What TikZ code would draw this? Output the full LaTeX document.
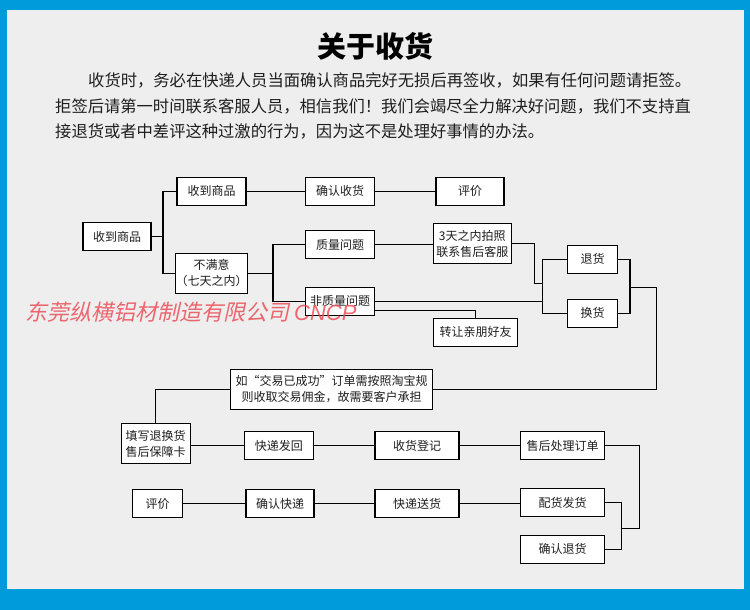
\documentclass[tikz,border=0pt]{standalone}
\usepackage{fontspec}
\setmainfont{Noto Sans CJK SC}
\newfontfamily\wmfont{Noto Sans CJK SC}[FakeSlant=0.22]
\newfontfamily\wmlatin{Liberation Sans}
\usetikzlibrary{calc}
\definecolor{bgblue}{RGB}{0,155,219}
\definecolor{bggray}{RGB}{238,238,238}
\definecolor{wmred}{RGB}{236,78,88}
\definecolor{txt}{RGB}{30,30,30}
\tikzset{
  box/.style={draw=black, line width=1.1pt, fill=white, inner sep=0pt,
    minimum height=28pt, font=\fontsize{12}{16}\selectfont, align=center, text=txt},
  conn/.style={line width=1.1pt, draw=black},
  para/.style={anchor=west, inner sep=0pt, text=txt, font=\fontsize{16.3}{20}\selectfont},
}
\begin{document}
\begin{tikzpicture}[x=1pt,y=-1pt]
\useasboundingbox (0,0) rectangle (750,610);
\fill[bgblue] (0,0) rectangle (750,610);
\fill[bggray] (7,10) rectangle (744,589);

% title and paragraph
\node[inner sep=0pt, text=black, font=\fontsize{29}{32}\selectfont\bfseries] (title) at (375,46) {关于收货};
\node[para] (p1) at (88,80) {收货时，务必在快递人员当面确认商品完好无损后再签收，如果有任何问题请拒签。};
\node[para] (p2) at (55,106) {拒签后请第一时间联系客服人员，相信我们！我们会竭尽全力解决好问题，我们不支持直};
\node[para] (p3) at (55,131) {接退货或者中差评这种过激的行为，因为这不是处理好事情的办法。};

% nodes
\node[box, minimum width=68pt] (n1) at (117,236.5) {收到商品};
\node[box, minimum width=69pt] (n2) at (211.5,191.3) {收到商品};
\node[box, minimum width=69pt] (n3) at (340,191.3) {确认收货};
\node[box, minimum width=68pt] (n4) at (470,191.3) {评价};
\node[box, minimum width=69pt, minimum height=40pt] (n5) at (211.5,273.3) {不满意\\（七天之内）};
\node[box, minimum width=69pt] (n6) at (340,244.5) {质量问题};
\node[box, minimum width=69pt] (n7) at (340,301.3) {非质量问题};
\node[box, minimum width=78pt, minimum height=40pt] (n8) at (472.3,243.5) {3天之内拍照\\联系售后客服};
\node[box, minimum width=84pt] (n9) at (475.5,332.2) {转让亲朋好友};
\node[box, minimum width=50pt] (n10) at (592.5,259.3) {退货};
\node[box, minimum width=50pt] (n11) at (592.5,313.3) {换货};
\node[box, minimum width=202pt, minimum height=40pt] (n12) at (331.7,389.3) {如“交易已成功”订单需按照淘宝规\\则收取交易佣金，故需要客户承担};
\node[box, minimum width=69pt, minimum height=40pt] (n13) at (155.7,443.5) {填写退换货\\售后保障卡};
\node[box, minimum width=69pt] (n14) at (278.8,445.5) {快递发回};
\node[box, minimum width=84pt] (n15) at (417,445.5) {收货登记};
\node[box, minimum width=84pt] (n16) at (562.5,445.5) {售后处理订单};
\node[box, minimum width=50pt] (n17) at (157.5,503.8) {评价};
\node[box, minimum width=68pt] (n18) at (280,503.8) {确认快递};
\node[box, minimum width=84pt] (n19) at (417,503.8) {快递送货};
\node[box, minimum width=84pt] (n20) at (562.5,502.8) {配货发货};
\node[box, minimum width=84pt] (n21) at (562.5,549.3) {确认退货};

% junctions
\coordinate (j1) at (163,236.5);
\coordinate (j2) at (273,273.3);
\coordinate (j3) at (534.5,283.5);
\coordinate (j4) at (542.5,283.5);
\coordinate (j5) at (630,287.3);
\coordinate (j6) at (656.5,287.3);
\coordinate (j8) at (621.7,528.3);
\coordinate (j9) at (639.3,528.3);

% connectors
\draw[conn] (n1.east) -- (j1);
\draw[conn] (n2.west) -| (j1) |- (n5.west);
\draw[conn] (n2) -- (n3);
\draw[conn] (n3) -- (n4);
\draw[conn] (n5.east) -- (j2);
\draw[conn] (n6.west) -| (j2) |- (n7.west);
\draw[conn] (n6.east) -- (n6.east -| n8.west);
\draw[conn] (n8.east) -| (j3) -- (j4);
\draw[conn] (n10.west) -| (j4) |- (n11.west);
\draw[conn] (n7.east) -- (n7.east -| j4);
\draw[conn] ($(n7.east)+(0,9)$) -| (n9.north);
\draw[conn] (n10.east) -| (j5) |- (n11.east);
\draw[conn] (j5) -- (j6) |- (n12.east);
\draw[conn] (n12.west) -| (n13.north);
\draw[conn] (n14.west -| n13.east) -- (n14.west);
\draw[conn] (n14) -- (n15);
\draw[conn] (n15) -- (n16);
\draw[conn] (n20.east) -| (j8) |- (n21.east);
\draw[conn] (n16.east) -| (j9) -- (j8);
\draw[conn] (n17) -- (n18);
\draw[conn] (n18) -- (n19);
\draw[conn] (n19.east) -- (n19.east -| n20.west);

% watermark
\node[anchor=west, inner sep=0pt, text=wmred, opacity=0.85, font=\fontsize{22}{24}\wmfont] (wm) at (25,312) {东莞纵横铝材制造有限公司 {\wmlatin\itshape CNCP}};
\end{tikzpicture}
\end{document}
